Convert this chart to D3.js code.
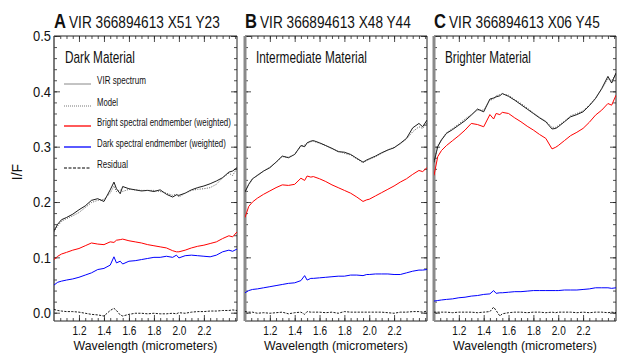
<!DOCTYPE html>
<html>
<head>
<meta charset="utf-8">
<script src="https://cdn.jsdelivr.net/npm/d3@7"></script>
<style>
  body { margin: 0; background: #fff; }
  svg { display: block; }
  text { font-family: "Liberation Sans", Arial, sans-serif; fill: #111; }
</style>
</head>
<body>
<svg id="chart" width="619" height="353"></svg>
<script>
// wavelength grid (micrometers)
const wavelength = [1.00, 1.03, 1.06, 1.10, 1.15, 1.20, 1.25, 1.30, 1.35, 1.40, 1.45, 1.48, 1.50, 1.53, 1.55,
  1.60, 1.65, 1.70, 1.75, 1.80, 1.85, 1.90, 1.95, 1.98, 2.00, 2.05, 2.10, 2.15, 2.20, 2.25, 2.30, 2.35, 2.40, 2.43, 2.465];

// Panel A - dark material
const virA = [0.148, 0.160, 0.168, 0.172, 0.178, 0.186, 0.193, 0.203, 0.206, 0.201, 0.222, 0.236, 0.224, 0.215, 0.228,
  0.224, 0.222, 0.220, 0.221, 0.219, 0.222, 0.214, 0.209, 0.213, 0.212, 0.216, 0.222, 0.226, 0.229, 0.233, 0.238, 0.244, 0.254, 0.256, 0.262];
const modelA = [0.146, 0.157, 0.165, 0.170, 0.175, 0.181, 0.190, 0.199, 0.203, 0.205, 0.216, 0.229, 0.219, 0.222, 0.219,
  0.223, 0.222, 0.221, 0.221, 0.221, 0.219, 0.216, 0.212, 0.214, 0.209, 0.216, 0.221, 0.223, 0.224, 0.226, 0.232, 0.244, 0.252, 0.248, 0.261];
const brightA = [0.096, 0.102, 0.106, 0.109, 0.113, 0.116, 0.121, 0.126, 0.124, 0.123, 0.128, 0.127, 0.131, 0.132, 0.133,
  0.130, 0.128, 0.126, 0.123, 0.121, 0.119, 0.117, 0.112, 0.110, 0.110, 0.113, 0.117, 0.120, 0.122, 0.125, 0.128, 0.134, 0.139, 0.137, 0.146];
const darkA = [0.050, 0.055, 0.057, 0.059, 0.061, 0.064, 0.068, 0.072, 0.078, 0.080, 0.086, 0.101, 0.090, 0.093, 0.088,
  0.093, 0.094, 0.096, 0.098, 0.100, 0.100, 0.102, 0.100, 0.104, 0.099, 0.103, 0.104, 0.103, 0.102, 0.101, 0.104, 0.110, 0.113, 0.111, 0.115];
const residA = [0.006, 0.004, 0.003, 0.002, 0.002, 0.001, -0.001, -0.003, -0.004, -0.006, 0.004, 0.008, 0.004, -0.004, -0.006,
  -0.003, -0.001, -0.001, -0.002, -0.001, -0.002, -0.002, -0.001, -0.002, 0.000, -0.001, 0.001, 0.002, 0.002, 0.003, 0.003, 0.004, 0.004, 0.005, 0.004];

// Panel B - intermediate material
const virB = [0.218, 0.232, 0.242, 0.248, 0.256, 0.262, 0.272, 0.283, 0.280, 0.286, 0.302, 0.300, 0.307, 0.310, 0.311,
  0.307, 0.302, 0.297, 0.291, 0.290, 0.286, 0.279, 0.272, 0.276, 0.278, 0.283, 0.289, 0.294, 0.298, 0.306, 0.315, 0.334, 0.342, 0.336, 0.348];
const modelB = [0.218, 0.231, 0.241, 0.249, 0.256, 0.263, 0.272, 0.282, 0.281, 0.286, 0.301, 0.303, 0.306, 0.309, 0.310,
  0.306, 0.302, 0.296, 0.292, 0.288, 0.285, 0.278, 0.271, 0.275, 0.277, 0.282, 0.288, 0.294, 0.299, 0.305, 0.314, 0.327, 0.336, 0.333, 0.343];
const brightB = [0.172, 0.192, 0.200, 0.207, 0.214, 0.220, 0.226, 0.231, 0.230, 0.232, 0.243, 0.239, 0.247, 0.245, 0.246,
  0.242, 0.237, 0.231, 0.226, 0.221, 0.216, 0.209, 0.201, 0.204, 0.205, 0.211, 0.217, 0.223, 0.229, 0.236, 0.242, 0.250, 0.257, 0.255, 0.262];
const darkB = [0.036, 0.040, 0.042, 0.043, 0.045, 0.047, 0.049, 0.051, 0.053, 0.054, 0.058, 0.067, 0.059, 0.062, 0.062,
  0.063, 0.064, 0.065, 0.066, 0.066, 0.068, 0.068, 0.067, 0.069, 0.069, 0.070, 0.070, 0.070, 0.069, 0.069, 0.072, 0.075, 0.077, 0.077, 0.078];
const residB = [0.002, 0.001, 0.001, -0.001, 0.000, -0.001, 0.000, 0.001, -0.002, 0.000, 0.001, -0.003, 0.002, 0.001, 0.001,
  0.001, 0.000, 0.001, -0.001, 0.002, 0.001, 0.001, 0.001, 0.001, 0.001, 0.001, 0.001, 0.000, -0.001, 0.001, 0.001, 0.002, 0.002, 0.001, 0.003];

// Panel C - brighter material
const virC = [0.272, 0.300, 0.312, 0.324, 0.331, 0.339, 0.347, 0.357, 0.368, 0.363, 0.386, 0.388, 0.390, 0.392, 0.396,
  0.391, 0.384, 0.376, 0.368, 0.360, 0.352, 0.345, 0.332, 0.333, 0.336, 0.345, 0.354, 0.358, 0.363, 0.374, 0.387, 0.405, 0.427, 0.415, 0.433];
const modelC = [0.270, 0.302, 0.313, 0.325, 0.333, 0.341, 0.350, 0.358, 0.366, 0.366, 0.384, 0.386, 0.392, 0.394, 0.395,
  0.393, 0.385, 0.378, 0.370, 0.361, 0.353, 0.346, 0.335, 0.335, 0.338, 0.346, 0.356, 0.360, 0.365, 0.375, 0.388, 0.404, 0.423, 0.419, 0.433];
const brightC = [0.248, 0.282, 0.293, 0.302, 0.311, 0.320, 0.330, 0.342, 0.340, 0.336, 0.358, 0.350, 0.360, 0.358, 0.362,
  0.360, 0.352, 0.345, 0.337, 0.330, 0.322, 0.315, 0.296, 0.299, 0.302, 0.311, 0.320, 0.326, 0.333, 0.344, 0.357, 0.366, 0.378, 0.375, 0.393];
const darkC = [0.021, 0.022, 0.023, 0.024, 0.025, 0.027, 0.028, 0.030, 0.031, 0.033, 0.034, 0.040, 0.035, 0.036, 0.036,
  0.037, 0.038, 0.038, 0.039, 0.040, 0.040, 0.040, 0.040, 0.040, 0.040, 0.041, 0.041, 0.041, 0.042, 0.043, 0.045, 0.045, 0.045, 0.044, 0.045];
const residC = [0.001, 0.001, 0.001, 0.001, 0.000, 0.001, 0.001, 0.001, 0.000, 0.001, 0.002, 0.010, 0.004, -0.006, -0.002,
  0.000, 0.001, 0.001, 0.000, 0.001, 0.001, 0.000, 0.001, 0.000, 0.001, 0.001, 0.001, 0.000, 0.001, 0.000, 0.001, 0.001, 0.000, 0.001, 0.000];

const xTicks = [1.2, 1.4, 1.6, 1.8, 2.0, 2.2];
const xTickLabels = ["1.2", "1.4", "1.6", "1.8", "2.0", "2.2"];
const yTicks = [0.0, 0.1, 0.2, 0.3, 0.4, 0.5];
const yTickLabels = ["0.0", "0.1", "0.2", "0.3", "0.4", "0.5"];

const legendNames = ["VIR spectrum", "Model", "Bright spectral endmember (weighted)", "Dark spectral endmember (weighted)", "Residual"];

const panels = [
  { letter: "A", title: "VIR 366894613 X51 Y23", name: "Dark Material", nameW: 70,
    vir: virA, model: modelA, bright: brightA, dark: darkA, resid: residA, left: 54, right: 237 },
  { letter: "B", title: "VIR 366894613 X48 Y44", name: "Intermediate Material", nameW: 111,
    vir: virB, model: modelB, bright: brightB, dark: darkB, resid: residB, left: 245, right: 427 },
  { letter: "C", title: "VIR 366894613 X06 Y45", name: "Brighter Material", nameW: 86,
    vir: virC, model: modelC, bright: brightC, dark: darkC, resid: residC, left: 434, right: 616 }
];

const svg = d3.select("#chart");
const plotTop = 36, plotBottom = 321;

const y = d3.scaleLinear().domain([-0.015, 0.5]).range([plotBottom, plotTop]);
const xMinor = d3.range(1.05, 2.46, 0.05);
const yMinor = d3.range(0, 0.501, 0.02);

// squeeze text horizontally to a given width (the original uses a narrow font)
function fit(sel, w) {
  sel.each(function () {
    const n = this.getComputedTextLength();
    if (!n) return;
    const s = w / n;
    const x0 = +(this.getAttribute("x") || 0);
    d3.select(this).attr("x", x0 / s).attr("transform", "scale(" + s + ",1)");
  });
}

// series styles
const styles = [
  { key: "vir", color: "#000", dash: null, width: 0.9 },
  { key: "model", color: "#444", dash: "1,1.4", width: 0.9 },
  { key: "bright", color: "#ff0000", dash: null, width: 1 },
  { key: "dark", color: "#0000ff", dash: null, width: 1 },
  { key: "resid", color: "#000", dash: "2.2,1.3", width: 0.9 }
];

panels.forEach(function (p, i) {
  const x = d3.scaleLinear().domain([1.0, 2.465]).range([p.left, p.right]);
  const g = svg.append("g");

  // frame ticks
  g.append("g").attr("transform", "translate(0," + plotBottom + ")")
    .call(d3.axisBottom(x).tickValues(xMinor).tickSize(-3).tickFormat(""));
  const xa = g.append("g").attr("transform", "translate(0," + plotBottom + ")")
    .call(d3.axisBottom(x).tickValues(xTicks).tickSize(-6).tickPadding(4)
      .tickFormat(function (d, k) { return xTickLabels[k]; }));
  g.append("g").attr("transform", "translate(0," + plotTop + ")")
    .call(d3.axisTop(x).tickValues(xMinor).tickSize(-3).tickFormat(""));
  g.append("g").attr("transform", "translate(0," + plotTop + ")")
    .call(d3.axisTop(x).tickValues(xTicks).tickSize(-6).tickFormat(""));
  g.append("g").attr("transform", "translate(" + p.left + ",0)")
    .call(d3.axisLeft(y).tickValues(yMinor).tickSize(-3).tickFormat(""));
  const ya = g.append("g").attr("transform", "translate(" + p.left + ",0)")
    .call(d3.axisLeft(y).tickValues(yTicks).tickSize(-6).tickPadding(3)
      .tickFormat(function (d, k) { return i === 0 ? yTickLabels[k] : ""; }));
  g.append("g").attr("transform", "translate(" + p.right + ",0)")
    .call(d3.axisRight(y).tickValues(yMinor).tickSize(-3).tickFormat(""));
  g.append("g").attr("transform", "translate(" + p.right + ",0)")
    .call(d3.axisRight(y).tickValues(yTicks).tickSize(-6).tickFormat(""));

  g.selectAll(".domain").remove();
  g.selectAll(".tick line").attr("stroke", "#222").attr("stroke-width", 0.8);
  xa.selectAll(".tick text").attr("font-size", 13.5).attr("fill", "#333").call(fit, 14);
  ya.selectAll(".tick text").filter(function () { return this.textContent !== ""; })
    .attr("font-size", 15).attr("fill", "#333").call(fit, 18);

  // frame
  g.append("line").attr("x1", p.left).attr("x2", p.right).attr("y1", plotTop).attr("y2", plotTop).attr("stroke", "#222");
  g.append("line").attr("x1", p.left).attr("x2", p.right).attr("y1", plotBottom).attr("y2", plotBottom).attr("stroke", "#222");
  g.append("line").attr("x1", p.right).attr("x2", p.right).attr("y1", plotTop).attr("y2", plotBottom).attr("stroke", "#222");
  g.append("line").attr("x1", p.left).attr("x2", p.left).attr("y1", plotTop).attr("y2", plotBottom)
    .attr("stroke", i === 0 ? "#444" : "#8a8a8a").attr("stroke-width", i === 0 ? 1.4 : 3);

  // data lines
  const clipId = "clip" + i;
  svg.append("clipPath").attr("id", clipId).append("rect")
    .attr("x", p.left).attr("y", plotTop).attr("width", p.right - p.left).attr("height", plotBottom - plotTop);
  const plot = g.append("g").attr("clip-path", "url(#" + clipId + ")");
  styles.forEach(function (s) {
    const line = d3.line().x(function (d, k) { return x(wavelength[k]); }).y(function (d) { return y(d); });
    plot.append("path").datum(p[s.key]).attr("d", line)
      .attr("fill", "none").attr("stroke", s.color).attr("stroke-width", s.width)
      .attr("stroke-dasharray", s.dash);
  });

  // titles
  g.append("text").attr("x", p.left).attr("y", 28).attr("font-size", 20).attr("font-weight", "bold")
    .text(p.letter).call(fit, 12);
  g.append("text").attr("x", p.left + 15).attr("y", 28).attr("font-size", 17)
    .attr("fill", "#333").text(p.title).call(fit, 151);
  g.append("text").attr("x", p.left + 11).attr("y", 63).attr("font-size", 17)
    .text(p.name).call(fit, p.nameW);
  g.append("text").attr("x", (p.left + p.right) / 2).attr("y", 350).attr("text-anchor", "middle")
    .attr("font-size", 13.5).attr("fill", "#333").text("Wavelength (micrometers)").call(fit, 144);
});

// y axis title
svg.append("text").attr("transform", "translate(22,172) rotate(-90)").attr("text-anchor", "middle")
  .attr("font-size", 14).text("I/F");

// legend in panel A
const legendY = [84, 106, 126, 147, 168];
const legendW = [49, 21, 134, 129, 31];
const legendStyles = [
  { color: "#888", dash: null, width: 1 },
  { color: "#777", dash: "1,1", width: 1 },
  { color: "#ff0000", dash: null, width: 1.3 },
  { color: "#0000ff", dash: null, width: 1.3 },
  { color: "#000", dash: "3,1.5", width: 1 }
];
const legend = svg.append("g");
legendNames.forEach(function (name, k) {
  legend.append("line").attr("x1", 64).attr("x2", 91).attr("y1", legendY[k]).attr("y2", legendY[k])
    .attr("stroke", legendStyles[k].color).attr("stroke-width", legendStyles[k].width)
    .attr("stroke-dasharray", legendStyles[k].dash);
  legend.append("text").attr("x", 97).attr("y", legendY[k]).attr("font-size", 10.5)
    .text(name).call(fit, legendW[k]);
});
</script>
</body>
</html>
